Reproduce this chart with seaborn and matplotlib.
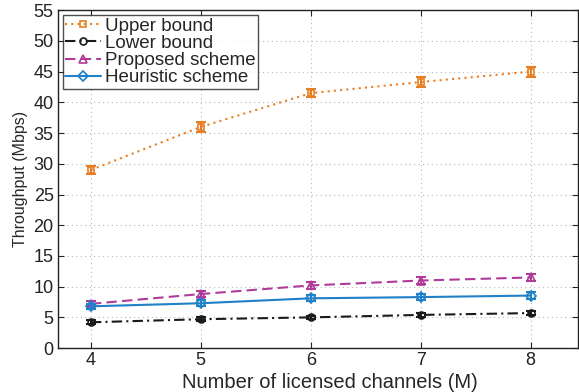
import matplotlib
matplotlib.use("Agg")
import matplotlib.pyplot as plt
import seaborn as sns
import pandas as pd

channels = [4, 5, 6, 7, 8]
upper = [29.0, 36.0, 41.5, 43.3, 45.0]
lower = [4.2, 4.7, 5.0, 5.4, 5.7]
proposed = [7.2, 8.8, 10.2, 11.0, 11.5]
heuristic = [6.8, 7.3, 8.1, 8.3, 8.55]
upper_err = [0.6, 0.8, 0.7, 0.8, 0.8]
lower_err = [0.3, 0.3, 0.3, 0.3, 0.3]
proposed_err = [0.4, 0.5, 0.5, 0.5, 0.5]
heuristic_err = [0.4, 0.5, 0.5, 0.5, 0.5]
names = ["Upper bound", "Lower bound", "Proposed scheme", "Heuristic scheme"]
yticks = list(range(0, 60, 5))

sns.set_style("ticks")
plt.rcParams['font.family'] = ['Liberation Sans', 'DejaVu Sans']

fig = plt.figure(figsize=(5.79, 3.92), dpi=100)
ax = fig.add_axes([0.1, 0.112, 0.898, 0.862])

series = [upper, lower, proposed, heuristic]
errs = [upper_err, lower_err, proposed_err, heuristic_err]
colors = ["#E87E24", "#1a1a1a", "#B03A9A", "#2080C8"]
styles = [(0, (1, 2)), (0, (5, 2, 1, 2)), (0, (5, 2.5)), "-"]
markers = ["s", "o", "^", "D"]
msizes = [5, 5, 6, 5]

df = pd.DataFrame({
    "M": channels * 4,
    "Throughput": upper + lower + proposed + heuristic,
    "Scheme": sum([[n] * len(channels) for n in names], []),
})

for name, vals, err, c, ls, mk, ms in zip(names, series, errs, colors, styles, markers, msizes):
    sub = df[df["Scheme"] == name]
    sns.lineplot(data=sub, x="M", y="Throughput", ax=ax, color=c, linestyle=ls,
                 marker=mk, markersize=ms, markerfacecolor="none", markeredgecolor=c,
                 markeredgewidth=1.2, linewidth=1.5, label=name)
    ax.errorbar(channels, vals, yerr=err, fmt="none", ecolor=c, elinewidth=1.5,
                capsize=3.5, capthick=1.5)

ax.set_xlim(3.7, 8.43)
ax.set_ylim(0, 55)
ax.set_xticks(channels)
ax.set_yticks(yticks)
ax.grid(True, linestyle=(0, (1, 3)), color="#b8b8b8", linewidth=0.8)
for s in ax.spines.values():
    s.set_visible(True)
    s.set_color("#222222")
    s.set_linewidth(1.0)
ax.tick_params(direction="in", labelsize=13, length=4, top=True, right=True, colors="#222222", pad=3)
ax.set_xlabel("Number of licensed channels (M)", fontsize=14.5, labelpad=0)
ax.xaxis.set_label_coords(0.523, -0.075)
ax.set_ylabel("Throughput (Mbps)", fontsize=11.5, labelpad=4)

leg = ax.legend(loc="upper left", fontsize=13.5, frameon=True, fancybox=False,
                edgecolor="#222222", borderpad=0.15, labelspacing=0.0,
                handlelength=1.9, handletextpad=0.2, borderaxespad=0.25)
leg.get_frame().set_linewidth(1.0)

fig.savefig("out.png", dpi=100)
